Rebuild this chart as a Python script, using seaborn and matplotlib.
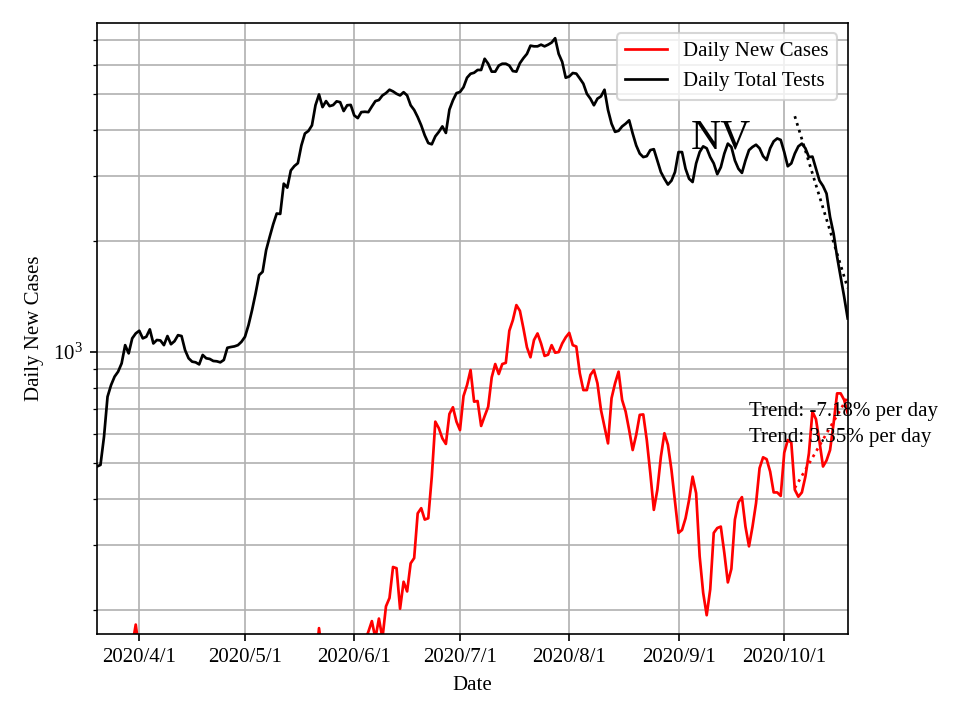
import numpy as np
import pandas as pd
import matplotlib
matplotlib.use("Agg")
import matplotlib.pyplot as plt
import matplotlib.dates as mdates
from matplotlib.ticker import FuncFormatter
import seaborn as sns

# ---------------- data ----------------
start_date = "2020-03-20"

daily_new_cases = [
    30, 45, 55, 70, 85, 95, 110, 120, 135, 150, 160,
    183,
    155, 140, 150, 130, 120, 145, 135, 110, 105, 120, 130, 100, 95, 110, 125,
    115, 100, 90, 105, 120, 110, 95, 85, 100, 115, 105, 90, 80, 95, 110,
    100, 90, 85, 95, 110, 100, 85, 80, 90, 105, 95, 85, 80, 95, 110, 100, 90,
    85, 100, 120, 140,
    179,
    150, 130, 120, 110, 125, 140, 130, 120, 135, 150, 160, 155, 165,
    175, 187, 168, 190, 168, 205, 216, 262, 260, 202, 239, 225, 268, 277,
    366, 378, 352, 355, 460, 648, 622, 584, 564, 680, 709, 648, 615, 760,
    814, 894, 734, 737, 631, 671, 711, 854, 928, 872, 928, 935, 1142, 1220,
    1340, 1293, 1159, 1030, 968, 1078, 1123, 1055, 976, 984, 1044, 996, 1000,
    1055, 1096, 1127, 1044, 1035, 876, 789, 789, 867, 894, 823, 697, 628,
    566, 750, 823, 885, 742, 690, 615, 543, 597, 676, 678, 578, 470, 374,
    424, 521, 603, 561, 480, 394, 324, 330, 355, 398, 460, 415, 280, 223,
    194, 228, 324, 334, 337, 286, 238, 259, 352, 392, 405, 337, 298, 337,
    390, 485, 519, 513, 475, 417, 417, 408, 534, 578, 569, 424, 406, 417,
    460, 532, 690, 658, 572, 490, 509, 543, 641, 773, 773, 742, 683,
]

daily_total_tests = [
    490, 495, 590, 757, 814, 858, 885, 932, 1044, 992,
    1089, 1123, 1142, 1089, 1100, 1152, 1055, 1078, 1075, 1044,
    1105, 1050, 1070, 1111, 1105, 1012, 962, 942, 938, 926,
    982, 962, 958, 946, 944, 938, 952, 1027, 1032, 1036,
    1044, 1066, 1100, 1183, 1298, 1440, 1615, 1649, 1887, 2049,
    2217, 2371, 2365, 2856, 2786, 3100, 3186, 3245, 3624, 3903,
    3967, 4107, 4655, 4979, 4601, 4777, 4630, 4660, 4770, 4745,
    4490, 4655, 4665, 4369, 4297, 4460, 4470, 4460, 4620, 4777,
    4810, 4949, 5021, 5128, 5075, 5000, 4949, 5050, 4949, 4655,
    4520, 4325, 4107, 3860, 3678, 3650, 3835, 3944, 4080, 3918,
    4530, 4800, 5021, 5055, 5210, 5527, 5664, 5700, 5800, 5800,
    6219, 6030, 5740, 5740, 5960, 6030, 6030, 5960, 5760, 5740,
    6050, 6243, 6412, 6748, 6720, 6720, 6790, 6720, 6790, 6880,
    7070, 6412, 6100, 5527, 5570, 5690, 5670, 5500, 5325, 5000,
    4850, 4655, 4850, 4920, 5128, 4520, 4150, 3944, 3970, 4080,
    4150, 4238, 3903, 3624, 3445, 3370, 3390, 3520, 3540, 3300,
    3070, 2945, 2840, 2910, 3070, 3477, 3477, 3134, 2945, 2885,
    3240, 3477, 3603, 3560, 3370, 3240, 3030, 3163, 3445, 3665,
    3590, 3300, 3134, 3054, 3300, 3520, 3590, 3640, 3560, 3390,
    3310, 3560, 3717, 3785, 3750, 3477, 3183, 3240, 3445, 3603,
    3665, 3560, 3370, 3380, 3134, 2910, 2815, 2685, 2320, 2093,
    1810, 1597, 1411, 1233,
]

series_labels = ["Daily New Cases", "Daily Total Tests"]
state_label = "NV"
trend_texts = ["Trend: -7.18% per day", "Trend: 3.35% per day"]
trend_days = 16
y_limits = [173, 7770]

# ---------------- style ----------------
plt.rcParams["font.family"] = ["Liberation Serif", "DejaVu Serif"]
plt.rcParams["font.size"] = 10

dates = pd.date_range(start_date, periods=len(daily_total_tests), freq="D")
df = pd.DataFrame({"Date": dates,
                   "cases": daily_new_cases,
                   "tests": daily_total_tests})

fig, ax = plt.subplots(figsize=(6.4, 4.8), dpi=150)
fig.subplots_adjust(left=0.101, right=0.883, top=0.968, bottom=0.12)

sns.lineplot(data=df, x="Date", y="cases", color="red", lw=1.3,
             label=series_labels[0], ax=ax)
sns.lineplot(data=df, x="Date", y="tests", color="black", lw=1.3,
             label=series_labels[1], ax=ax)

# trend lines (log-linear fit over the last days)
tail = df.iloc[-trend_days:]
t = np.arange(trend_days)
for col, colr in [("tests", "black"), ("cases", "red")]:
    coef = np.polyfit(t, np.log(tail[col].values), 1)
    fit = np.exp(np.polyval(coef, t))
    sns.lineplot(x=tail["Date"].values, y=fit, color=colr, ls=":", lw=1.3,
                 legend=False, ax=ax)

ax.set_yscale("log")
ax.set_ylim(*y_limits)
ax.set_xlim(dates[0], dates[-1])

ax.xaxis.set_major_locator(mdates.MonthLocator(bymonthday=1))


def fmt_date(x, pos=None):
    d = mdates.num2date(x)
    return f"{d.year}/{d.month}/{d.day}"


ax.xaxis.set_major_formatter(FuncFormatter(fmt_date))

ax.grid(True, which="both", color="#b0b0b0", lw=0.8)
ax.set_xlabel("Date")
ax.set_ylabel("Daily New Cases")
ax.legend(loc="upper right")

ax.text(0.791, 0.795, state_label, transform=ax.transAxes, fontsize=20,
        ha="left", va="baseline")
ax.text(0.869, 0.356, trend_texts[0], transform=ax.transAxes,
        ha="left", va="baseline")
ax.text(0.869, 0.314, trend_texts[1], transform=ax.transAxes,
        ha="left", va="baseline")

fig.savefig("out.png", dpi=150)
